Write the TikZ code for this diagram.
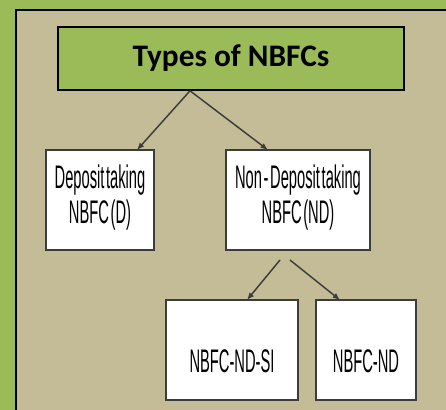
\documentclass[tikz,border=0pt]{standalone}
\usepackage{fontspec}
\setmainfont{Liberation Sans}
\newfontfamily\titlefont{Carlito}
\newfontfamily\boxfont[FakeStretch=0.45,WordSpace=0.4]{Liberation Sans}
\usetikzlibrary{arrows.meta,calc}
\definecolor{framegreen}{HTML}{9BBB59}
\definecolor{beige}{HTML}{C4BC96}
\definecolor{edgegray}{HTML}{3C3C3C}
\begin{document}
\begin{tikzpicture}[x=0.75pt,y=-0.75pt,
  boxnode/.style={draw=edgegray, line width=0.9pt, fill=white, inner sep=0pt, outer sep=0pt, minimum height=75pt},
  lbl/.style={font=\boxfont\fontsize{24.5}{26}\selectfont, align=center, inner sep=0pt},
  conn/.style={draw=edgegray, line width=1.1pt, -{Latex[length=5.5pt,width=4.5pt]}}
]
\useasboundingbox (0,0) rectangle (446,410);
\clip (0,0) rectangle (446,410);
\fill[framegreen] (0,0) rectangle (446,410);
\filldraw[fill=beige, draw=black, line width=1.3pt] (16,10) rectangle (470,430);
\node[draw=black, line width=1.2pt, fill=framegreen, minimum width=259.5pt, minimum height=47.25pt, inner sep=0pt, font=\titlefont\bfseries\fontsize{23.5}{26}\selectfont] (title) at (231,58.5) {Types of NBFCs};
\node[boxnode, minimum width=81pt] (bD) at (100,200) {};
\node[boxnode, minimum width=108pt] (bND) at (298,200) {};
\node[boxnode, minimum width=99pt] (bSI) at (232,350) {};
\node[boxnode, minimum width=75pt] (bN) at (366,350) {};
\node[lbl, anchor=north] (tD) at (100,165) {Deposit taking\\NBFC (D)};
\node[lbl, anchor=north] (tND) at (298,165) {Non - Deposit taking\\NBFC (ND)};
\node[lbl, anchor=base] (tSI) at (232,372) {NBFC-ND-SI};
\node[lbl, anchor=base] (tN) at (366,372) {NBFC-ND};
\coordinate (tb) at ($(title.south)+(-41,0)$);
\coordinate (s1) at ($(bND.south)+(-18,10)$);
\coordinate (s2) at ($(bND.south)+(-8,10)$);
\draw[conn] (tb) -- ($(bD.north)+(37,0)$);
\draw[conn] (tb) -- ($(bND.north)+(-30,0)$);
\draw[conn] (s1) -- ($(bSI.north)+(15,0)$);
\draw[conn] (s2) -- ($(bN.north)+(-26,0)$);
\end{tikzpicture}
\end{document}
